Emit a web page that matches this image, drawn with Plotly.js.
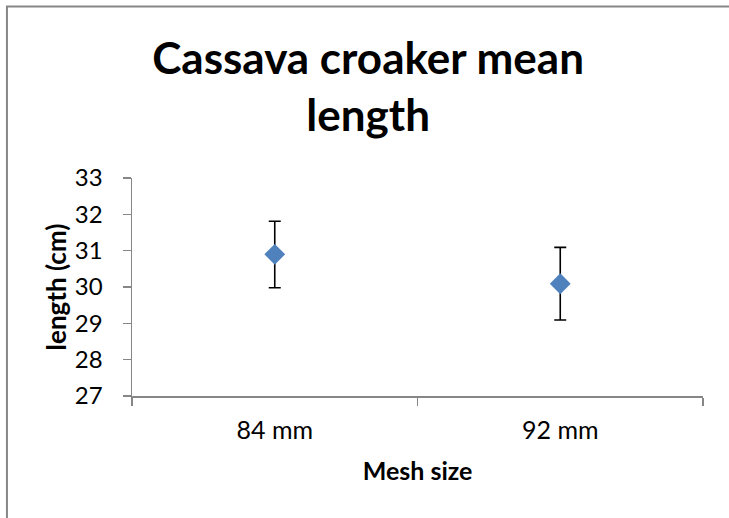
<!DOCTYPE html>
<html>
<head>
<meta charset="utf-8">
<script src="https://cdn.plot.ly/plotly-3.0.1.min.js"></script>
<style>
html,body{margin:0;padding:0;background:#fff;}
#chart{width:729px;height:518px;}
</style>
</head>
<body>
<div id="chart"></div>
<script>
const categories = ["84 mm", "92 mm"];
const meanLength = [30.90, 30.09];
const errorPlus = [0.91, 1.00];
const errorMinus = [0.92, 1.00];
const yTicks = [27, 28, 29, 30, 31, 32, 33];

const FONT = "Lato, 'Open Sans', sans-serif";

const trace = {
  type: "scatter",
  mode: "markers",
  x: categories,
  y: meanLength,
  marker: {symbol: "diamond", size: 16, color: "#4F81BD"},
  error_y: {
    type: "data",
    symmetric: false,
    array: errorPlus,
    arrayminus: errorMinus,
    color: "#000000",
    thickness: 1.6,
    width: 6
  },
  showlegend: false,
  hoverinfo: "x+y"
};

const layout = {
  width: 729,
  height: 518,
  paper_bgcolor: "#ffffff",
  plot_bgcolor: "#ffffff",
  margin: {l: 132, r: 26, t: 178, b: 122},
  font: {family: FONT, color: "#000000"},
  title: {
    text: "<b>Cassava croaker mean<br>length</b>",
    font: {family: FONT, size: 44, color: "#000000"},
    x: 0.505,
    xref: "container",
    xanchor: "center",
    y: 0.857,
    yref: "container",
    yanchor: "top"
  },
  xaxis: {
    type: "category",
    range: [-0.5, 1.5],
    tickson: "boundaries",
    ticks: "outside",
    ticklen: 8,
    tickwidth: 1.3,
    tickcolor: "#868686",
    showline: true,
    linecolor: "#868686",
    linewidth: 1.5,
    showgrid: false,
    zeroline: false,
    tickfont: {family: FONT, size: 25, color: "#000000"},
    ticklabelstandoff: 11,
    title: {text: "<b>Mesh size</b>", font: {family: FONT, size: 25, color: "#000000"}, standoff: 20},
    fixedrange: true
  },
  yaxis: {
    range: [27, 33],
    tickvals: yTicks,
    ticktext: yTicks.map(String),
    ticks: "outside",
    ticklen: 8,
    tickwidth: 1.3,
    tickcolor: "#868686",
    showline: true,
    linecolor: "#868686",
    linewidth: 1.5,
    showgrid: false,
    zeroline: false,
    tickfont: {family: FONT, size: 24, color: "#000000"},
    ticklabelstandoff: 15,
    title: {text: "<b>length (cm)</b>", font: {family: FONT, size: 26, color: "#000000"}, standoff: 1},
    fixedrange: true
  },
  shapes: [{
    type: "path",
    xref: "paper",
    yref: "paper",
    path: "M -0.219 -0.6 L -0.219 1.787 L 1.2 1.787",
    line: {color: "#878787", width: 2}
  }]
};

Plotly.newPlot("chart", [trace], layout, {displayModeBar: false, staticPlot: true});
</script>
</body>
</html>
